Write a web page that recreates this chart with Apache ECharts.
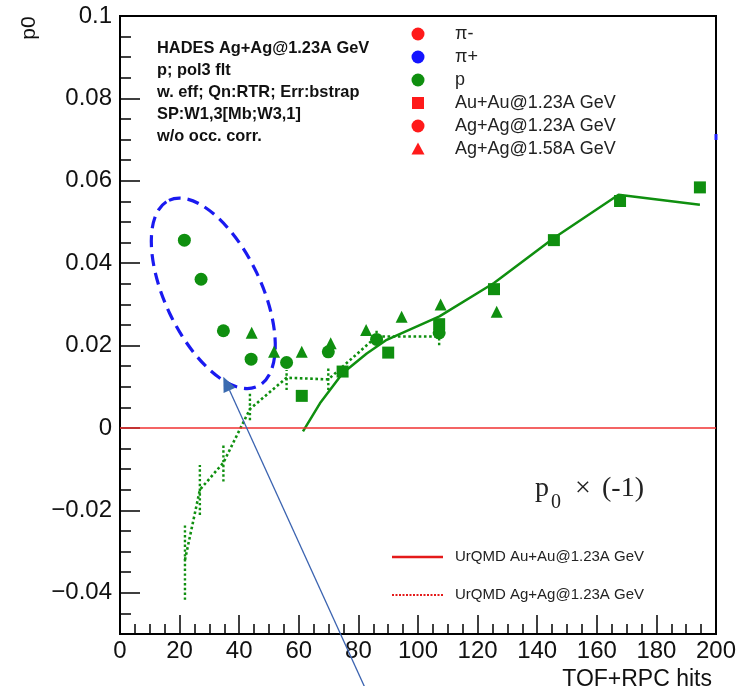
<!DOCTYPE html>
<html>
<head>
<meta charset="utf-8">
<script src="https://cdn.jsdelivr.net/npm/echarts@6/dist/echarts.min.js"></script>
<style>
  html, body { margin: 0; padding: 0; background: #fff; }
  #chart { width: 745px; height: 686px; }
</style>
</head>
<body>
<div id="chart"></div>
<script>
// p0 versus TOF+RPC hits, protons
const auauX   = [61.0, 74.7, 90.0, 107.1, 125.5, 145.6, 167.8, 194.6];
const auauY   = [0.0078, 0.0137, 0.0183, 0.0252, 0.0337, 0.0456, 0.0551, 0.0584];
const agag123X = [21.6, 27.2, 34.7, 44.0, 55.9, 69.9, 86.1, 107.1];
const agag123Y = [0.0456, 0.0361, 0.0236, 0.0167, 0.0159, 0.0185, 0.0215, 0.0231];
const agag158X = [44.2, 51.7, 61.0, 70.7, 82.6, 94.5, 107.6, 126.4];
const agag158Y = [0.0231, 0.0185, 0.0185, 0.0206, 0.0238, 0.0270, 0.0300, 0.0282];

// UrQMD model curves
const urqmdAuX = [61.4, 67.1, 74.7, 82.8, 89.5, 107.2, 125.5, 145.6, 167.3, 194.6];
const urqmdAuY = [-0.0008, 0.0060, 0.0133, 0.0181, 0.0214, 0.0271, 0.0352, 0.0461, 0.0566, 0.0542];
const urqmdAgX  = [21.8, 26.8, 34.7, 43.6, 55.9, 69.9, 86.1, 107.1];
const urqmdAgY  = [-0.0320, -0.0150, -0.0084, 0.0046, 0.0122, 0.0118, 0.0222, 0.0222];
const urqmdAgLo = [-0.0417, -0.0211, -0.0130, 0.0019, 0.0092, 0.0092, 0.0207, 0.0201];
const urqmdAgHi = [-0.0231, -0.0090, -0.0037, 0.0088, 0.0141, 0.0149, 0.0237, 0.0246];

// axis ticks
const xTicks = [0, 20, 40, 60, 80, 100, 120, 140, 160, 180, 200];
const yMajor = [-0.04, -0.02, 0, 0.02, 0.04, 0.06, 0.08, 0.1];

// legend entries
const legendItems = [
  { label: 'π-', symbol: 'circle', color: '#ff1a1a' },
  { label: 'π+', symbol: 'circle', color: '#1414ff' },
  { label: 'p', symbol: 'circle', color: '#0f8f0f' },
  { label: 'Au+Au@1.23A GeV', symbol: 'rect', color: '#ff1a1a' },
  { label: 'Ag+Ag@1.23A GeV', symbol: 'circle', color: '#ff1a1a' },
  { label: 'Ag+Ag@1.58A GeV', symbol: 'triangle', color: '#ff1a1a' }
];
const infoLines = [
  'HADES Ag+Ag@1.23A GeV',
  'p; pol3 flt',
  'w. eff; Qn:RTR; Err:bstrap',
  'SP:W1,3[Mb;W3,1]',
  'w/o occ. corr.'
];

const GREEN = '#0f8f0f';
const SANS = '"Liberation Sans", Arial, Helvetica, sans-serif';
const SERIF = '"Liberation Serif", "Times New Roman", serif';

const zip = (xs, ys) => xs.map((x, i) => [x, ys[i]]);
const errData = urqmdAgX.map((x, i) => [x, urqmdAgLo[i], urqmdAgHi[i]]);

function fmtY(v) {
  const r = +(+v).toFixed(3);
  if (r === 0) return '0';
  const s = String(Math.abs(r));
  return r < 0 ? '\u2212' + s : s;
}

const chart = echarts.init(document.getElementById('chart'), null, { renderer: 'canvas' });

// legend graphics
const legendGraphics = [];
legendItems.forEach((it, i) => {
  const cy = 34 + i * 23;
  const cx = 418;
  let mark;
  if (it.symbol === 'circle') {
    mark = { type: 'circle', shape: { cx: cx, cy: cy, r: 6.5 }, style: { fill: it.color } };
  } else if (it.symbol === 'rect') {
    mark = { type: 'rect', shape: { x: cx - 6, y: cy - 6, width: 12, height: 12 }, style: { fill: it.color } };
  } else {
    mark = { type: 'polygon', shape: { points: [[cx, cy - 6.5], [cx + 6.5, cy + 5.5], [cx - 6.5, cy + 5.5]] }, style: { fill: it.color } };
  }
  legendGraphics.push(mark);
  legendGraphics.push({
    type: 'text', x: 455, y: cy,
    style: { text: it.label, fontSize: 18, fontFamily: SANS, fill: '#222', verticalAlign: 'middle', align: 'left' }
  });
});

// ellipse + arrow annotation
const ellCx = 213.3, ellCy = 293.3;
const tip = [223.3, 376.7], tail = [366, 690];
const dx = tail[0] - tip[0], dy = tail[1] - tip[1];
const len = Math.hypot(dx, dy);
const ux = dx / len, uy = dy / len;
const headL = 15, headW = 6.5;
const base = [tip[0] + ux * headL, tip[1] + uy * headL];
const c1 = [base[0] - uy * headW, base[1] + ux * headW];
const c2 = [base[0] + uy * headW, base[1] - ux * headW];

const option = {
  backgroundColor: '#ffffff',
  animation: false,
  grid: {
    left: 120, right: 29, top: 16, bottom: 52,
    show: true, borderColor: '#000', borderWidth: 2,
    backgroundColor: 'transparent',
    containLabel: false, outerBoundsMode: 'none'
  },
  xAxis: {
    type: 'value', min: 0, max: 200, interval: 20,
    name: 'TOF+RPC hits', nameLocation: 'end', nameGap: -4,
    nameTextStyle: { fontSize: 23, fontFamily: SANS, color: '#111', align: 'right', verticalAlign: 'top', padding: [34, 0, 0, 0] },
    axisLine: { show: true, onZero: false, lineStyle: { color: '#000', width: 2 } },
    axisTick: { show: true, inside: true, length: 19, lineStyle: { color: '#000', width: 1.5 } },
    minorTick: { show: true, splitNumber: 4, length: 10, lineStyle: { color: '#000', width: 1.5 } },
    axisLabel: { fontSize: 24, fontFamily: SANS, color: '#111', margin: 5, showMinLabel: true, showMaxLabel: true },
    splitLine: { show: false }, minorSplitLine: { show: false }
  },
  yAxis: [
    {
      type: 'value', min: -0.05, max: 0.1, interval: 0.005,
      axisLine: { show: true, onZero: false, lineStyle: { color: '#000', width: 2 } },
      axisTick: { show: true, inside: true, length: 11, lineStyle: { color: '#000', width: 1.5 } },
      axisLabel: {
        customValues: yMajor, formatter: fmtY,
        fontSize: 24, fontFamily: SANS, color: '#111', margin: 8
      },
      splitLine: { show: false }
    },
    {
      type: 'value', min: -0.05, max: 0.1, position: 'left', offset: 0,
      axisLine: { show: false },
      axisTick: { show: true, inside: true, length: 20, customValues: yMajor, lineStyle: { color: '#000', width: 1.5 } },
      axisLabel: { show: false },
      splitLine: { show: false }
    }
  ],
  series: [
    {
      name: 'UrQMD Au+Au@1.23A GeV', type: 'line', data: zip(urqmdAuX, urqmdAuY),
      showSymbol: false, symbol: 'none', z: 3,
      lineStyle: { color: GREEN, width: 2.5 },
      markLine: {
        silent: true, symbol: 'none', label: { show: false },
        lineStyle: { color: '#f03030', width: 1.6, type: 'solid' },
        data: [{ yAxis: 0 }]
      }
    },
    {
      name: 'UrQMD Ag+Ag@1.23A GeV', type: 'line', data: zip(urqmdAgX, urqmdAgY),
      showSymbol: false, symbol: 'none', z: 3,
      lineStyle: { color: GREEN, width: 2.6, type: [2.6, 2.6] }
    },
    {
      name: 'UrQMD Ag+Ag errors', type: 'custom', data: errData, z: 3,
      encode: { x: 0, y: [1, 2] },
      renderItem: function (params, api) {
        const p1 = api.coord([api.value(0), api.value(1)]);
        const p2 = api.coord([api.value(0), api.value(2)]);
        return {
          type: 'line',
          shape: { x1: p1[0], y1: p1[1], x2: p2[0], y2: p2[1] },
          style: { stroke: GREEN, lineWidth: 2.4, lineDash: [2.4, 2.4] }
        };
      }
    },
    {
      name: 'Au+Au@1.23A GeV', type: 'scatter', data: zip(auauX, auauY),
      symbol: 'rect', symbolSize: 12, z: 5, itemStyle: { color: GREEN, opacity: 1 }
    },
    {
      name: 'Ag+Ag@1.23A GeV', type: 'scatter', data: zip(agag123X, agag123Y),
      symbol: 'circle', symbolSize: 13, z: 5, itemStyle: { color: GREEN, opacity: 1 }
    },
    {
      name: 'Ag+Ag@1.58A GeV', type: 'scatter', data: zip(agag158X, agag158Y),
      symbol: 'triangle', symbolSize: 12, z: 5, itemStyle: { color: GREEN, opacity: 1 }
    }
  ],
  graphic: [
    // y axis title
    {
      type: 'text', x: 29, y: 28, rotation: Math.PI / 2,
      style: { text: 'p0', fontSize: 21, fontFamily: SANS, fill: '#111', align: 'center', verticalAlign: 'middle' }
    },
    // info block
    {
      type: 'text', x: 157, y: 37,
      style: { text: infoLines.join('\n'), fontSize: 16.4, fontWeight: 'bold', fontFamily: SANS, fill: '#111', lineHeight: 22, align: 'left', verticalAlign: 'top' }
    },
    ...legendGraphics,
    // p0 x (-1)
    { type: 'text', x: 535, y: 488.5, style: { text: 'p', fontSize: 28, fontFamily: SERIF, fill: '#222', verticalAlign: 'middle' } },
    { type: 'text', x: 551, y: 502.5, style: { text: '0', fontSize: 20, fontFamily: SERIF, fill: '#222', verticalAlign: 'middle' } },
    { type: 'text', x: 575, y: 488.5, style: { text: '\u00d7', fontSize: 28, fontFamily: SERIF, fill: '#222', verticalAlign: 'middle' } },
    { type: 'text', x: 602, y: 488.5, style: { text: '(-1)', fontSize: 28, fontFamily: SERIF, fill: '#222', verticalAlign: 'middle' } },
    // model legend
    { type: 'line', shape: { x1: 392, y1: 557, x2: 443, y2: 557 }, style: { stroke: '#e41a1a', lineWidth: 2.5 } },
    { type: 'text', x: 455, y: 557, style: { text: 'UrQMD Au+Au@1.23A GeV', fontSize: 15, fontFamily: SANS, fill: '#222', verticalAlign: 'middle' } },
    { type: 'line', shape: { x1: 392, y1: 595, x2: 443, y2: 595 }, style: { stroke: '#e41a1a', lineWidth: 2, lineDash: [2, 1.5] } },
    { type: 'text', x: 455, y: 595, style: { text: 'UrQMD Ag+Ag@1.23A GeV', fontSize: 15, fontFamily: SANS, fill: '#222', verticalAlign: 'middle' } },
    // dashed ellipse around the low-multiplicity points
    {
      type: 'group', x: ellCx, y: ellCy, rotation: -64.5 * Math.PI / 180, z: 10,
      children: [{
        type: 'ellipse', shape: { cx: 0, cy: 0, rx: 103, ry: 48 },
        style: { fill: null, stroke: '#1a1af0', lineWidth: 3.2, lineDash: [12, 7] }
      }]
    },
    // arrow
    { type: 'line', z: 10, shape: { x1: tail[0], y1: tail[1], x2: base[0], y2: base[1] }, style: { stroke: '#3b63b0', lineWidth: 1.3 } },
    { type: 'polygon', z: 10, shape: { points: [tip, c1, c2] }, style: { fill: '#3b6bb0' } },
    // small blue mark on the right frame
    { type: 'rect', z: 10, shape: { x: 714.5, y: 134, width: 3, height: 6 }, style: { fill: '#2020ff' } }
  ]
};

chart.setOption(option);
</script>
</body>
</html>
